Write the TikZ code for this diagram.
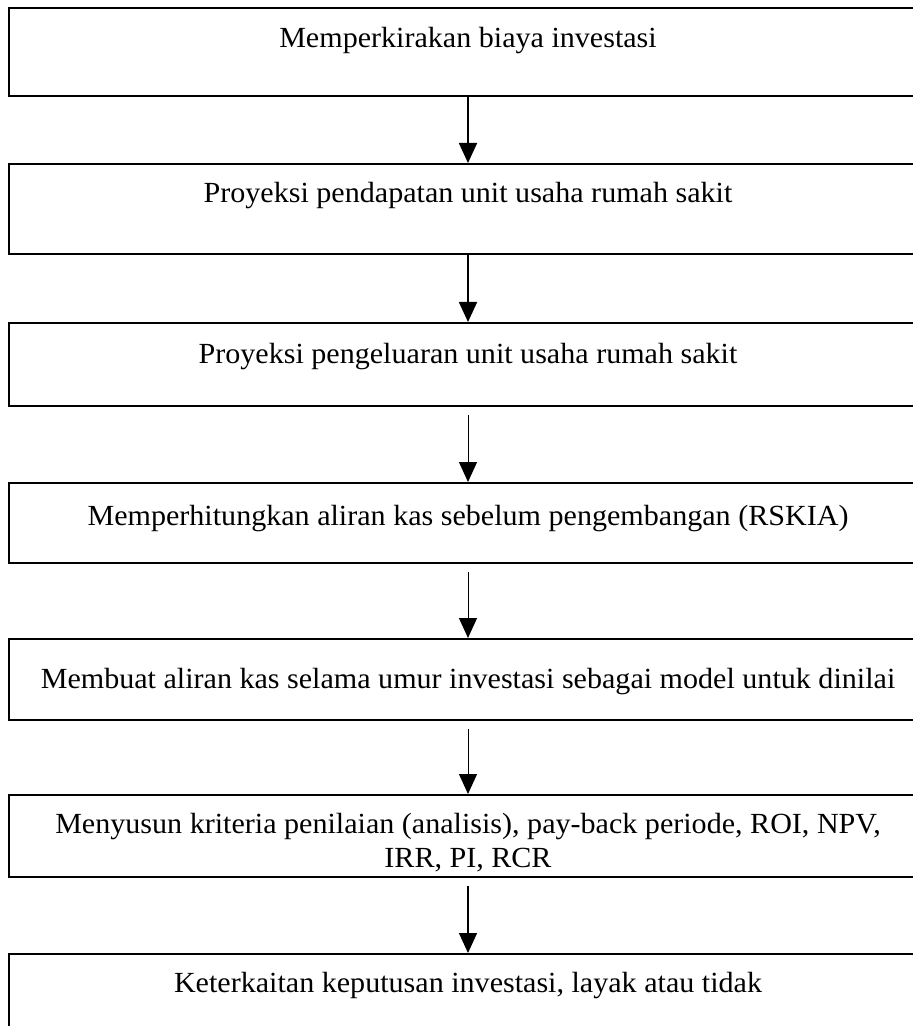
\documentclass[tikz,border=0pt]{standalone}
\usepackage{fontspec}
\setmainfont[FakeStretch=1.03]{Liberation Serif}
\usetikzlibrary{arrows.meta,positioning}

\begin{document}
\begin{tikzpicture}[
    x=0.5pt, y=-0.5pt,
    font=\fontsize{14.6pt}{17pt}\selectfont,
    stepbox/.style 2 args={rectangle, draw, line width=0.9pt, anchor=north, minimum width=459pt, inner xsep=0pt, inner ysep=0pt, text height=#1, text depth=#2},
    edge/.style={-{Triangle[length=10pt, width=9pt]}, line width=0.9pt},
    thinedge/.style={edge, line width=0.5pt, shorten <=4pt}
]
\useasboundingbox (0,0) rectangle (913,1026);
\clip (0,0) rectangle (913,1026);
\node[stepbox={20pt}{24pt}] (st1) at (468,7) {Memperkirakan biaya investasi};
\node[stepbox={19.5pt}{25.5pt}] (st2) at (468,163) {Proyeksi pendapatan unit usaha rumah sakit};
\node[stepbox={20.5pt}{21pt}] (st3) at (468,322) {Proyeksi pengeluaran unit usaha rumah sakit};
\node[stepbox={21.5pt}{18.5pt}] (st4) at (468,482) {Memperhitungkan aliran kas sebelum pengembangan (RSKIA)};
\node[stepbox={25pt}{15.5pt}] (st5) at (468,638) {Membuat aliran kas selama umur investasi sebagai model untuk dinilai};
\node[stepbox={19.5pt}{21.5pt}] (st6) at (468,794) {\begin{tabular}[t]{@{}c@{}}Menyusun kriteria penilaian (analisis), pay-back periode, ROI, NPV,\\ IRR, PI, RCR\end{tabular}};
\node[stepbox={19.5pt}{24pt}] (st7) at (468,953) {Keterkaitan keputusan investasi, layak atau tidak};
\draw[edge] (st1) -- (st2);
\draw[edge] (st2) -- (st3);
\draw[thinedge] (st3) -- (st4);
\draw[thinedge] (st4) -- (st5);
\draw[thinedge] (st5) -- (st6);
\draw[thinedge, line width=0.7pt] (st6) -- (st7);
\end{tikzpicture}
\end{document}
